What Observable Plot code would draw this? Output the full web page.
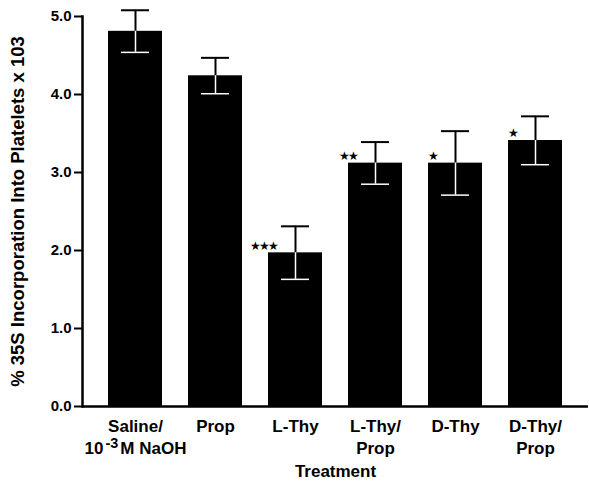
<!DOCTYPE html>
<html><head><meta charset="utf-8">
<script src="https://cdn.jsdelivr.net/npm/d3@7"></script>
<script src="https://cdn.jsdelivr.net/npm/@observablehq/plot@0.6"></script>
<style>body{margin:0;background:#fff;} svg{font-family:"Liberation Sans",Arial,sans-serif;}</style>
</head><body><div id="chart"></div>
<script>
const treatments = ["Saline/\n10-3M NaOH", "Prop", "L-Thy", "L-Thy/\nProp", "D-Thy", "D-Thy/\nProp"];
const means = [4.81, 4.24, 1.97, 3.12, 3.12, 3.41];
const errors = [0.27, 0.23, 0.34, 0.27, 0.41, 0.31];
const stars = ["", "", "★★★", "★★", "★", "★"];
const yTicks = [0, 1, 2, 3, 4, 5];
const yLabel = "% 35S Incorporation Into Platelets x 103";
const xLabel = "Treatment";

const data = treatments.map((t, i) => ({t, m: means[i], e: errors[i], s: stars[i]}));

const chart = Plot.plot({
  width: 589, height: 482,
  marginLeft: 82, marginRight: 1, marginTop: 16, marginBottom: 76,
  style: {fontFamily: "'Liberation Sans', Arial, sans-serif", fontSize: "15px", color: "black"},
  x: {domain: treatments, padding: 0.325},
  y: {domain: [0, 5]},
  marks: [
    Plot.barY(data, {x: "t", y: "m", fill: "black"}),
    Plot.ruleX(data, {x: "t", y1: "m", y2: d => d.m + d.e, stroke: "black", strokeWidth: 2}),
    Plot.tickY(data, {x: "t", y: d => d.m + d.e, stroke: "black", strokeWidth: 2, inset: 13}),
    Plot.ruleX(data, {x: "t", y1: d => d.m - d.e, y2: "m", stroke: "white", strokeWidth: 1.5}),
    Plot.tickY(data, {x: "t", y: d => d.m - d.e, stroke: "white", strokeWidth: 1.5, inset: 13}),
    Plot.text(data, {x: "t", y: "m", text: "s", textAnchor: "end", dx: -19, dy: -7, fontSize: 12, fill: "black", className: "stars"}),
    Plot.frame({anchor: "left", strokeWidth: 2.5}),
    Plot.ruleY([0], {strokeWidth: 2.5}),
    Plot.axisY({ticks: yTicks, tickFormat: d3.format(".1f"), tickSize: 8, tickPadding: 3, strokeWidth: 2, fontWeight: "bold", fontSize: 15,
      label: yLabel, labelAnchor: "center", labelArrow: "none", labelOffset: 72}),
    Plot.axisX({tickSize: 0, tickPadding: 10, fontWeight: "bold", fontSize: 17, lineHeight: 1.3,
      label: xLabel, labelAnchor: "center", labelArrow: "none", labelOffset: 70})
  ]
});
chart.querySelectorAll(".stars text").forEach(t => t.setAttribute("letter-spacing", "-2"));
chart.querySelectorAll("g[aria-label='y-axis label'] text").forEach(t => { t.setAttribute("font-weight", "bold"); t.setAttribute("font-size", "18.5"); });
chart.querySelectorAll("g[aria-label='x-axis label'] text").forEach(t => { t.setAttribute("font-weight", "bold"); t.setAttribute("font-size", "17"); });
// render the exponent in "10-3M" as a superscript
chart.querySelectorAll("g[aria-label='x-axis tick label'] tspan").forEach(ts => {
  const s = ts.textContent;
  const m = s.match(/^10-3(.*)$/);
  if (m) {
    ts.textContent = "10";
    const sup = document.createElementNS("http://www.w3.org/2000/svg", "tspan");
    sup.setAttribute("dy", "-0.45em"); sup.setAttribute("font-size", "0.85em"); sup.setAttribute("dx", "2");
    sup.textContent = "-3";
    const rest = document.createElementNS("http://www.w3.org/2000/svg", "tspan");
    rest.setAttribute("dy", "0.38em"); rest.setAttribute("dx", "2");
    rest.textContent = m[1];
    ts.appendChild(sup); ts.appendChild(rest);
  }
});
document.getElementById("chart").appendChild(chart);
</script></body></html>
